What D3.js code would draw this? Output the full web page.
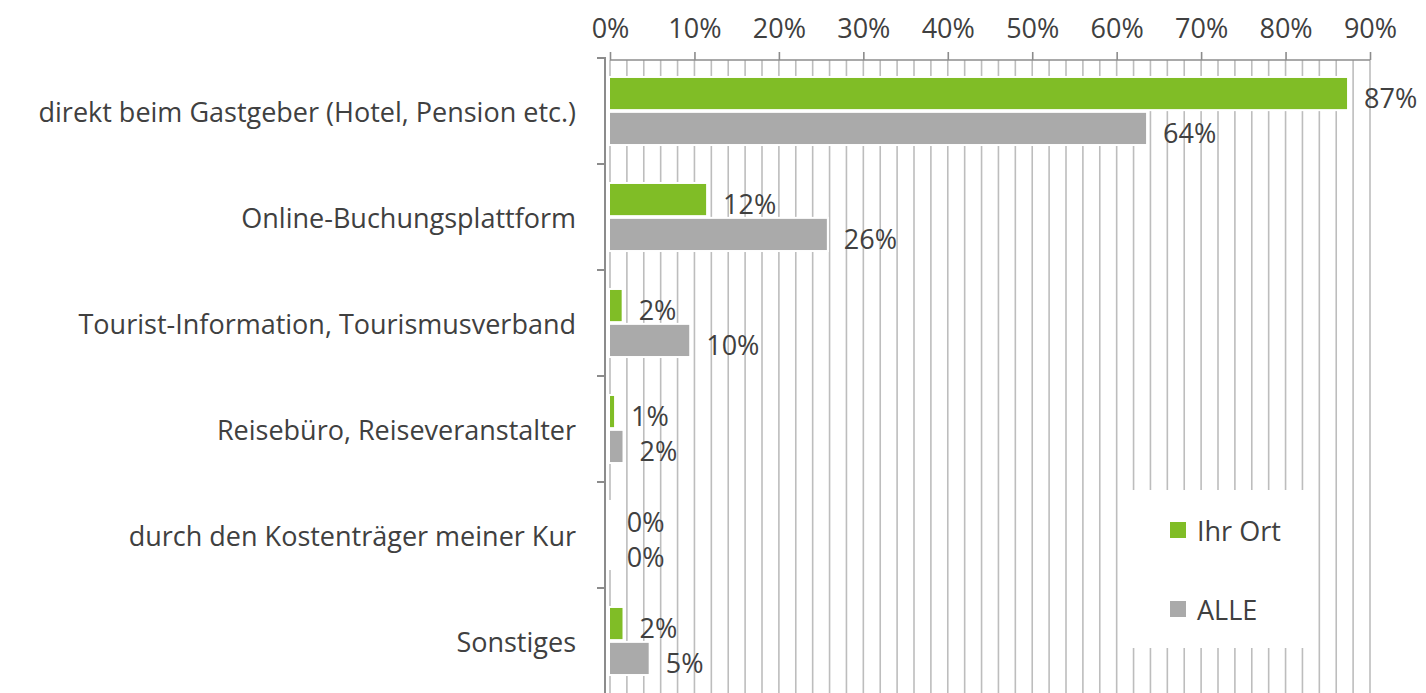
<!DOCTYPE html>
<html>
<head>
<meta charset="utf-8">
<script src="https://cdn.jsdelivr.net/npm/d3@7"></script>
<style>
  body { margin: 0; background: #fff; }
  svg { display: block; font-family: "Open Sans", sans-serif; }
</style>
</head>
<body>
<svg width="1426" height="693"></svg>
<script>
// data
const categories = [
  "direkt beim Gastgeber (Hotel, Pension etc.)",
  "Online-Buchungsplattform",
  "Tourist-Information, Tourismusverband",
  "Reisebüro, Reiseveranstalter",
  "durch den Kostenträger meiner Kur",
  "Sonstiges"
];
const seriesNames = ["Ihr Ort", "ALLE"];
const ihrOrt = [87.4, 11.5, 1.5, 0.6, 0.1, 1.6];
const alle = [63.6, 25.8, 9.5, 1.6, 0.1, 4.7];
const tickValues = [0, 10, 20, 30, 40, 50, 60, 70, 80, 90];
const colors = ["#80bd26", "#aaaaaa"];

const rows = categories.map((c, i) => ({ cat: c, vals: [ihrOrt[i], alle[i]] }));

var svg = d3.select("svg");
var textColor = "#404040";
var fontSize = "27px";

var x = d3.scaleLinear().domain([0, 90]).range([610, 1370]);

var y = d3
  .scaleBand()
  .domain(categories)
  .range([58, 694])
  .paddingInner(0.358)
  .paddingOuter(0.179);

var ySub = d3
  .scaleBand()
  .domain(seriesNames)
  .range([0, y.bandwidth()])
  .paddingInner(0.05);

// minor gridlines every 2%
svg
  .append("g")
  .selectAll("line")
  .data(d3.range(0, 91, 2))
  .enter()
  .append("line")
  .attr("x1", (d) => x(d))
  .attr("x2", (d) => x(d))
  .attr("y1", 60)
  .attr("y2", 694)
  .attr("stroke", "#bdbdbd")
  .attr("stroke-width", 1.6);

// top axis
var axis = svg
  .append("g")
  .attr("transform", "translate(0,60)")
  .call(
    d3
      .axisTop(x)
      .tickValues(tickValues)
      .tickSize(8)
      .tickPadding(14)
      .tickFormat((d) => d + "%")
  );
axis.select(".domain").attr("stroke", "#8c8c8c").attr("stroke-width", 1.6)
  .attr("d", "M" + x(0) + ",0H" + x(90));
axis.selectAll(".tick line").attr("stroke", "#8c8c8c").attr("stroke-width", 1.6);
axis
  .selectAll(".tick text")
  .attr("fill", textColor)
  .style("font-size", fontSize)
  .style("font-family", "'Open Sans', sans-serif");

// left axis
var yAxisX = 605;
svg
  .append("line")
  .attr("x1", yAxisX)
  .attr("x2", yAxisX)
  .attr("y1", 57)
  .attr("y2", 694)
  .attr("stroke", "#8c8c8c")
  .attr("stroke-width", 2);

var step = y.step();
svg
  .append("g")
  .selectAll("line")
  .data(categories)
  .enter()
  .append("line")
  .attr("x1", yAxisX - 8)
  .attr("x2", yAxisX)
  .attr("y1", (d) => y(d) - (step - y.bandwidth()) / 2)
  .attr("y2", (d) => y(d) - (step - y.bandwidth()) / 2)
  .attr("stroke", "#8c8c8c")
  .attr("stroke-width", 2);

// category labels
svg
  .append("g")
  .selectAll("text")
  .data(categories)
  .enter()
  .append("text")
  .attr("x", 576)
  .attr("y", (d) => y(d) + y.bandwidth() / 2)
  .attr("text-anchor", "end")
  .attr("dominant-baseline", "central")
  .attr("fill", textColor)
  .style("font-size", fontSize)
  .text((d) => d);

// bars
var groups = svg
  .append("g")
  .selectAll("g")
  .data(rows)
  .enter()
  .append("g")
  .attr("transform", (d) => "translate(0," + y(d.cat) + ")");

groups
  .selectAll("rect")
  .data((d) => d.vals.map((v, i) => ({ v: v, s: seriesNames[i], i: i })))
  .enter()
  .append("rect")
  .attr("x", x(0) - 1)
  .attr("y", (d) => ySub(d.s))
  .attr("width", (d) => x(d.v) - x(0) + 1)
  .attr("height", ySub.bandwidth())
  .attr("fill", (d) => colors[d.i])
  .attr("stroke", "#fff")
  .attr("stroke-width", 2);

groups
  .selectAll("text")
  .data((d) => d.vals.map((v, i) => ({ v: v, s: seriesNames[i] })))
  .enter()
  .append("text")
  .attr("x", (d) => x(d.v) + 16)
  .attr("y", (d) => ySub(d.s) + ySub.bandwidth() / 2 + 4)
  .attr("dominant-baseline", "central")
  .attr("fill", textColor)
  .style("font-size", fontSize)
  .text((d) => Math.round(d.v) + "%");

// legend
var legend = svg.append("g").attr("transform", "translate(1120,490)");
legend
  .append("rect")
  .attr("width", 195)
  .attr("height", 158)
  .attr("fill", "#fff");
var items = legend
  .selectAll("g")
  .data(seriesNames)
  .enter()
  .append("g")
  .attr("transform", (d, i) => "translate(50," + (40 + i * 79) + ")");
items
  .append("rect")
  .attr("x", 0)
  .attr("y", -8)
  .attr("width", 16)
  .attr("height", 16)
  .attr("fill", (d, i) => colors[i]);
items
  .append("text")
  .attr("x", 27)
  .attr("y", 0)
  .attr("dominant-baseline", "central")
  .attr("fill", textColor)
  .style("font-size", fontSize)
  .text((d) => d);
</script>
</body>
</html>
